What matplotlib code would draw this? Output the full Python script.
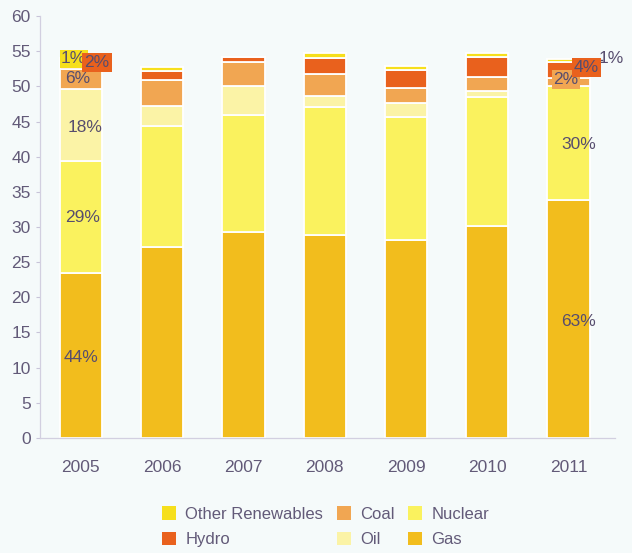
import matplotlib.pyplot as plt
import numpy as np

plt.rcParams['font.family'] = ['Liberation Sans', 'DejaVu Sans']

# Electricity generation by source, stacked per year
years = ['2005', '2006', '2007', '2008', '2009', '2010', '2011']
gas = [23.5, 27.1, 29.3, 28.9, 28.1, 30.1, 33.9]
nuclear = [15.9, 17.3, 16.6, 18.1, 17.6, 18.4, 16.2]
oil = [10.2, 2.8, 4.1, 1.6, 1.9, 0.8, 0.0]
coal = [2.9, 3.7, 3.4, 3.1, 2.2, 2.1, 1.1]
hydro = [1.1, 1.3, 0.8, 2.4, 2.5, 2.8, 2.2]
other = [0.5, 0.5, 0.0, 0.6, 0.6, 0.6, 0.5]

series = [('Gas', gas, '#f2bd1d'),
          ('Nuclear', nuclear, '#faf25e'),
          ('Oil', oil, '#fbf3a6'),
          ('Coal', coal, '#f1a652'),
          ('Hydro', hydro, '#e9611d'),
          ('Other Renewables', other, '#f6df1c')]
colors = {name: c for name, _, c in series}

bg = '#f5fafa'
fig = plt.figure(figsize=(6.32, 5.53), dpi=100, facecolor=bg)
ax = fig.add_axes([0.063, 0.208, 0.91, 0.763], facecolor=bg)

x = np.arange(len(years))
bottom = np.zeros(len(years))
handles = {}
for name, vals, c in series:
    vals = np.array(vals)
    b = ax.bar(x, vals, 0.52, bottom=bottom, color=c, edgecolor='white',
               linewidth=1.3, label=name)
    handles[name] = b
    bottom += vals

ax.set_xlim(-0.505, 6.57)
ax.set_ylim(0, 60)
ax.set_yticks(range(0, 61, 5))
ax.set_xticks(x)
ax.set_xticklabels(years)
txt = '#625a78'
ax.tick_params(axis='y', colors='#c8c4d8', labelcolor=txt, labelsize=12.5,
               length=3, width=0.8)
ax.tick_params(axis='x', length=0, labelcolor=txt, labelsize=12.5, pad=16)
for s in ['top', 'right']:
    ax.spines[s].set_visible(False)
for s in ['left', 'bottom']:
    ax.spines[s].set_color('#d2cfe0')
    ax.spines[s].set_linewidth(0.9)

# share labels on 2005 and 2011
lab = dict(color='#574d6e', fontsize=12.5, ha='center', va='center')
ax.text(0.0, 11.5, '44%', **lab)
ax.text(0.02, 31.3, '29%', **lab)
ax.text(0.05, 44.2, '18%', **lab)
ax.text(-0.04, 51.1, '6%', **lab)
ax.text(-0.09, 53.9, '1%', zorder=5,
        bbox=dict(boxstyle='square,pad=0.08', fc=colors['Other Renewables'], ec='none'), **lab)
ax.text(0.2, 53.4, '2%', zorder=6,
        bbox=dict(boxstyle='square,pad=0.12', fc=colors['Hydro'], ec='none'), **lab)

ax.text(6.12, 16.5, '63%', **lab)
ax.text(6.12, 41.8, '30%', **lab)
ax.text(5.97, 51.0, '2%', zorder=5,
        bbox=dict(boxstyle='square,pad=0.1', fc=colors['Coal'], ec='none'), **lab)
ax.text(6.22, 52.7, '4%', zorder=6,
        bbox=dict(boxstyle='square,pad=0.1', fc=colors['Hydro'], ec='none'), **lab)
ax.plot([6.36, 6.41], [53.8, 53.8], color='#574d6e', lw=1, clip_on=False)
ax.text(6.52, 54.0, '1%', clip_on=False, **lab)

order = ['Other Renewables', 'Hydro', 'Coal', 'Oil', 'Nuclear', 'Gas']
leg = fig.legend([handles[n] for n in order], order, ncol=3,
                 loc='center', bbox_to_anchor=(0.515, 0.0475), frameon=False,
                 fontsize=12, handlelength=0.85, handleheight=0.85,
                 handletextpad=0.55, columnspacing=0.8, labelspacing=0.6)
for t in leg.get_texts():
    t.set_color(txt)
for h in leg.legend_handles:
    h.set_edgecolor('none')

fig.savefig('out.png', dpi=100, facecolor=bg)
